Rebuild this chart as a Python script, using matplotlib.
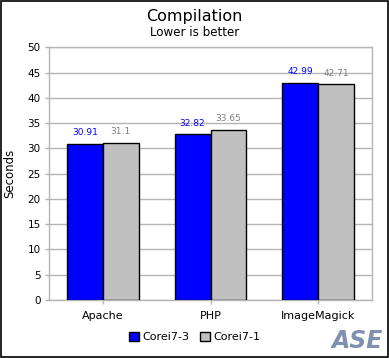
import numpy as np
import matplotlib.pyplot as plt
from matplotlib.patches import Rectangle

# data
categories = ["Apache", "PHP", "ImageMagick"]
series_names = ["Corei7-3", "Corei7-1"]
corei7_3 = [30.91, 32.82, 42.99]
corei7_1 = [31.1, 33.65, 42.71]
label_3 = ["30.91", "32.82", "42.99"]
label_1 = ["31.1", "33.65", "42.71"]
yticks = [0, 5, 10, 15, 20, 25, 30, 35, 40, 45, 50]

BLUE = "#0000ff"
GRAY = "#c0c0c0"
GRID = "#b4b4b4"

plt.rcParams["font.family"] = ["Liberation Sans Narrow", "DejaVu Sans"]

fig = plt.figure(figsize=(3.89, 3.58), dpi=100)
fig.patch.set_facecolor("white")
fig.patches.append(Rectangle((0.0015, 0.0015), 0.997, 0.997, transform=fig.transFigure,
                             fill=False, edgecolor="black", linewidth=1.2))

ax = fig.add_axes([49 / 389, 1 - 300 / 358, 323 / 389, 252.7 / 358])

x = np.arange(len(categories))
w = 0.334

b1 = ax.bar(x - w / 2, corei7_3, w, color=BLUE, edgecolor="black", linewidth=1, zorder=3,
            label=series_names[0])
b2 = ax.bar(x + w / 2, corei7_1, w, color=GRAY, edgecolor="black", linewidth=1, zorder=3,
            label=series_names[1])

for xi, v, t in zip(x, corei7_3, label_3):
    ax.text(xi - w / 2, v + 1.3, t, ha="center", va="bottom", fontsize=6.5, color=BLUE)
for xi, v, t in zip(x, corei7_1, label_1):
    ax.text(xi + w / 2, v + 1.3, t, ha="center", va="bottom", fontsize=6.5, color="#808080")

ax.set_xlim(-0.5, 2.5)
ax.set_ylim(0, 50)
ax.set_yticks(yticks)
ax.set_yticklabels([str(t) for t in yticks], fontsize=7.5)
ax.set_xticks(x)
ax.set_xticklabels(categories, fontsize=8)
ax.tick_params(axis="both", color=GRID, length=3, width=1, pad=3)
ax.tick_params(axis="x", pad=5)
ax.yaxis.grid(True, color=GRID, linewidth=1, zorder=0)
for s in ax.spines.values():
    s.set_color(GRID)
    s.set_linewidth(1)

ax.set_ylabel("Seconds", fontsize=8.5, labelpad=8)

fig.text(0.5, 1 - 16 / 358, "Compilation", ha="center", va="center", fontsize=11.5,
         family="DejaVu Sans")
fig.text(0.5, 1 - 33 / 358, "Lower is better", ha="center", va="center", fontsize=8.6,
         family="DejaVu Sans")

fig.legend(handles=[b1, b2], labels=series_names, loc="center",
           bbox_to_anchor=(0.5, 1 - 337 / 358), ncol=2, frameon=False, fontsize=8,
           handlelength=0.9, handleheight=0.9, handletextpad=0.3, columnspacing=1.0)

fig.text(0.985, 0.015, "ASE", ha="right", va="bottom", fontsize=17, fontweight="bold",
         color="#8090b0", family="DejaVu Sans", fontstyle="italic")

fig.savefig("out.png", dpi=100)
